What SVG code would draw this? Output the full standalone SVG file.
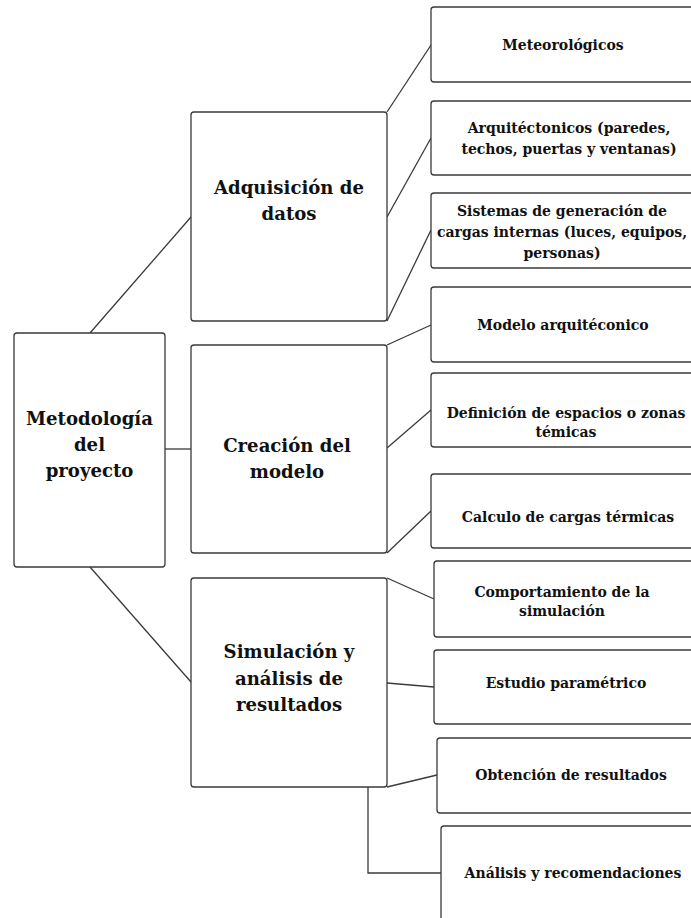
<svg xmlns="http://www.w3.org/2000/svg" width="691" height="918" viewBox="0 0 691 918">
<style>
.box{fill:#fff;stroke:#3a3a3a;stroke-width:1.3}
.big{font-family:"DejaVu Serif","Liberation Serif",serif;font-weight:bold;font-size:18.1px;fill:#111;text-anchor:middle}
.sm{font-family:"DejaVu Serif","Liberation Serif",serif;font-weight:bold;font-size:14px;fill:#111;text-anchor:middle}
.con{fill:none;stroke:#3a3a3a;stroke-width:1.3}
</style>
<rect width="691" height="918" fill="#fff"/>
<g id="connectors" class="con">
<line x1="90" y1="333" x2="191" y2="217"/>
<line x1="165" y1="449" x2="191" y2="449"/>
<line x1="90" y1="567" x2="191" y2="682"/>
<line x1="387" y1="112" x2="431" y2="45"/>
<line x1="387" y1="217" x2="431" y2="138"/>
<line x1="387" y1="321" x2="431" y2="230"/>
<line x1="387" y1="345" x2="431" y2="325"/>
<line x1="387" y1="448" x2="431" y2="410"/>
<line x1="387" y1="553" x2="431" y2="511"/>
<line x1="387" y1="578" x2="434" y2="599"/>
<line x1="387" y1="683" x2="434" y2="687"/>
<line x1="387" y1="787" x2="437" y2="775"/>
<polyline points="368,787 368,873 441,873"/>
</g>
<g id="root">
<rect class="box" x="14" y="333" width="151" height="234" rx="3"/>
<text class="big" x="89.5" y="425">Metodología</text>
<text class="big" x="89.5" y="451">del</text>
<text class="big" x="89.5" y="477">proyecto</text>
</g>
<g id="adquisicion">
<rect class="box" x="191" y="112" width="196" height="209" rx="3"/>
<text class="big" x="289" y="194">Adquisición de</text>
<text class="big" x="289" y="220">datos</text>
</g>
<g id="creacion">
<rect class="box" x="191" y="345" width="196" height="208" rx="3"/>
<text class="big" x="287" y="452">Creación del</text>
<text class="big" x="287" y="478">modelo</text>
</g>
<g id="simulacion">
<rect class="box" x="191" y="578" width="196" height="209" rx="3"/>
<text class="big" x="289" y="658">Simulación y</text>
<text class="big" x="289" y="685">análisis de</text>
<text class="big" x="289" y="711">resultados</text>
</g>
<g id="meteorologicos">
<rect class="box" x="431" y="7" width="270" height="75" rx="3"/>
<text class="sm" x="563" y="50">Meteorológicos</text>
</g>
<g id="arquitectonicos">
<rect class="box" x="431" y="101" width="270" height="74" rx="3"/>
<text class="sm" x="569" y="133">Arquitéctonicos (paredes,</text>
<text class="sm" x="569" y="154">techos, puertas y ventanas)</text>
</g>
<g id="sistemas">
<rect class="box" x="431" y="193" width="270" height="75" rx="3"/>
<text class="sm" x="562" y="216">Sistemas de generación de</text>
<text class="sm" x="562" y="237">cargas internas (luces, equipos,</text>
<text class="sm" x="562" y="258">personas)</text>
</g>
<g id="modelo">
<rect class="box" x="431" y="287" width="270" height="75" rx="3"/>
<text class="sm" x="563" y="330">Modelo arquitéconico</text>
</g>
<g id="definicion">
<rect class="box" x="431" y="373" width="270" height="74" rx="3"/>
<text class="sm" x="566" y="418">Definición de espacios o zonas</text>
<text class="sm" x="566" y="437">témicas</text>
</g>
<g id="calculo">
<rect class="box" x="431" y="474" width="270" height="74" rx="3"/>
<text class="sm" x="568" y="522">Calculo de cargas térmicas</text>
</g>
<g id="comportamiento">
<rect class="box" x="434" y="561" width="270" height="76" rx="3"/>
<text class="sm" x="562" y="597">Comportamiento de la</text>
<text class="sm" x="562" y="616">simulación</text>
</g>
<g id="estudio">
<rect class="box" x="434" y="650" width="270" height="74" rx="3"/>
<text class="sm" x="566" y="688">Estudio paramétrico</text>
</g>
<g id="obtencion">
<rect class="box" x="437" y="738" width="270" height="75" rx="3"/>
<text class="sm" x="571" y="780">Obtención de resultados</text>
</g>
<g id="analisis">
<rect class="box" x="441" y="826" width="270" height="110" rx="3"/>
<text class="sm" x="573" y="878">Análisis y recomendaciones</text>
</g>
</svg>
